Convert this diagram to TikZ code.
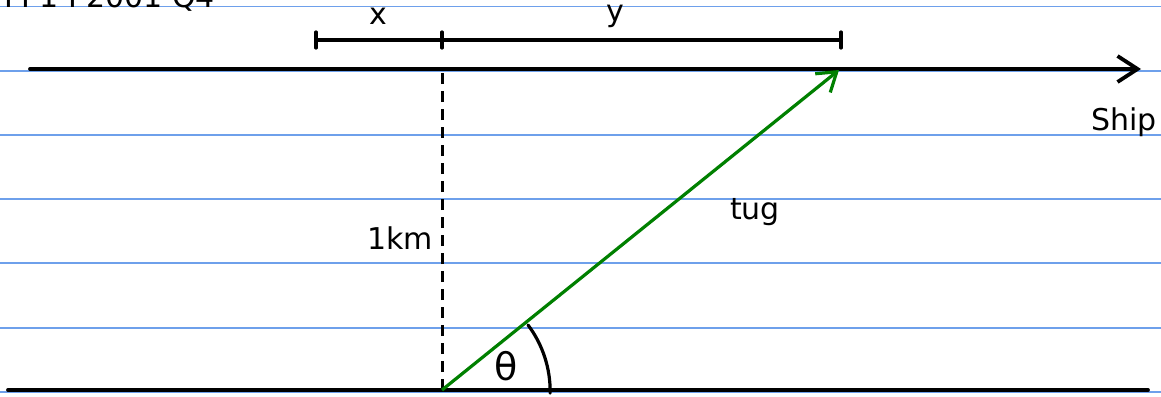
\documentclass[tikz,border=0pt]{standalone}
\usepackage{fontspec}
\setmainfont{DejaVu Sans}
\usetikzlibrary{arrows.meta,calc}
\definecolor{rule}{RGB}{110,160,235}
\definecolor{tuggreen}{RGB}{0,128,0}
\tikzset{
  ruleline/.style={rule, line width=1.6pt},
  heavy/.style={black, line width=3.8pt, line cap=round},
  dimline/.style={black, line width=3.2pt, line cap=round},
  hand/.style={font=\fontsize{30}{30}\selectfont, inner sep=0pt},
  open/.style={-{Straight Barb[length=20pt,width=26pt,line width=3.8pt]}}
}
\begin{document}
\begin{tikzpicture}[x=1pt,y=-1pt]
\useasboundingbox (0,0) rectangle (1161,396);
\clip (0,0) rectangle (1161,396);
\fill[white] (0,0) rectangle (1161,396);
% ruled lines
\foreach \yy in {6.5,71,135,199,263,328,392}
  \draw[ruleline] (0,\yy) -- (1161,\yy);
% header (cut off)
\node[hand, anchor=base west] (hdr) at (4,8) {FP1 I 2001 Q4};
% coordinates
\coordinate (shipL) at (30,69);
\coordinate (shipR) at (1141,69);
\coordinate (botL) at (8,390);
\coordinate (botR) at (1148,390);
\coordinate (O) at (442,390);
\coordinate (T) at (442,69);
\coordinate (P) at (839,70);
\coordinate (dA) at (316,40);
\coordinate (dB) at (442,40);
\coordinate (dC) at (841,40);
% ship line
\draw[heavy, open] (shipL) -- (shipR);
% bottom line
\draw[heavy] (botL) -- (botR);
% dashed
\draw[black, line width=3pt, dash pattern=on 11pt off 7pt] (O) -- (T);
% dimension
\draw[dimline] (dA) -- (dC);
\foreach \c in {dA,dB,dC}
  \draw[dimline] ($(\c)+(0,-8)$) -- ($(\c)+(0,8)$);
% tug vector
\draw[tuggreen, line width=3.2pt, -{Straight Barb[length=18pt,width=24pt,line width=3.2pt]}] (O) -- (P);
% angle arc
\draw[black, line width=3.2pt, line cap=round] (528,325) arc[start angle=-37, end angle=1, radius=110];
% labels
\node[hand] (lx) at (378,16) {x};
\node[hand] (ly) at (615,16) {y};
\node[hand] (lkm) at (400,238) {1km};
\node[hand] (ltug) at (755,212) {tug};
\node[hand, font=\fontsize{38}{38}\selectfont] (lth) at (506,366) {θ};
\node[hand] (lship) at (1124,122) {Ship};
\end{tikzpicture}
\end{document}
